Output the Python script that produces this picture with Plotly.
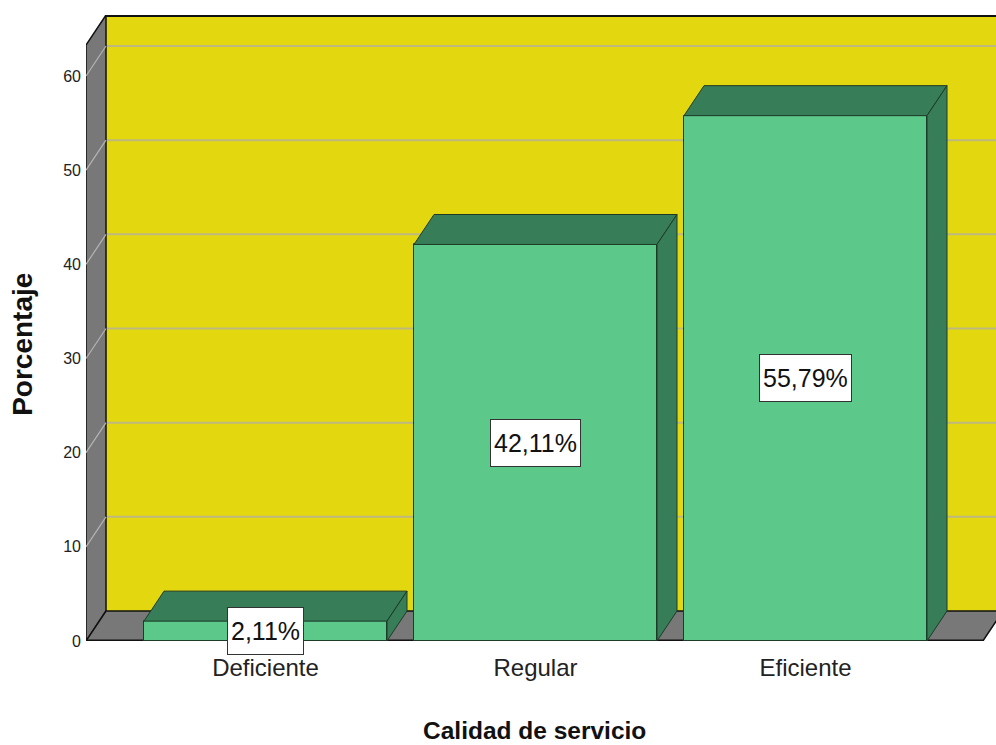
import plotly.graph_objects as go

categories = ["Deficiente", "Regular", "Eficiente"]
percentages = [2.11, 42.11, 55.79]
value_labels = ["2,11%", "42,11%", "55,79%"]
y_ticks = [0, 10, 20, 30, 40, 50, 60]

# geometry of the pseudo-3D frame (in axis units)
X_LEFT, X_RIGHT = -0.6648, 2.7056
Y_MAX = 66.48
DX, DY = 0.0741, 3.185
HALF_W = 0.45
FLOOR_RIGHT = 2.657

YELLOW = "#E3D80F"
GRAY = "#787878"
FRONT = "#5CC98B"
DARK = "#377D57"
EDGE = "#1E3A28"
FONT = "Liberation Sans, Arial, sans-serif"


def path(points):
    return "M " + " L ".join(f"{x},{y}" for x, y in points) + " Z"


shapes = []
# back wall
shapes.append(dict(type="path", xref="x", yref="y", layer="below",
                   path=path([(X_LEFT + DX, DY), (FLOOR_RIGHT + DX, DY),
                              (FLOOR_RIGHT + DX, Y_MAX), (X_LEFT + DX, Y_MAX)]),
                   fillcolor=YELLOW, line=dict(width=0)))
# gridlines on back wall and left wall
for t in y_ticks[1:]:
    shapes.append(dict(type="line", xref="x", yref="y", layer="below",
                       x0=X_LEFT + DX, x1=FLOOR_RIGHT + DX, y0=t + DY, y1=t + DY,
                       line=dict(color="#BDB780", width=2)))
# left wall
shapes.append(dict(type="path", xref="x", yref="y", layer="below",
                   path=path([(X_LEFT, 0), (X_LEFT + DX, DY), (X_LEFT + DX, Y_MAX),
                              (X_LEFT, Y_MAX - DY)]),
                   fillcolor=GRAY, line=dict(color="#111111", width=1.5)))
for t in y_ticks[1:]:
    shapes.append(dict(type="line", xref="x", yref="y", layer="below",
                       x0=X_LEFT, x1=X_LEFT + DX, y0=t, y1=t + DY,
                       line=dict(color="#B4B4B4", width=1.2)))
# floor
shapes.append(dict(type="path", xref="x", yref="y", layer="below",
                   path=path([(X_LEFT, 0), (FLOOR_RIGHT, 0), (FLOOR_RIGHT + DX, DY),
                              (X_LEFT + DX, DY)]),
                   fillcolor=GRAY, line=dict(color="#111111", width=1.5)))
# back wall top edge and floor front edge
shapes.append(dict(type="line", xref="x", yref="y", layer="below",
                   x0=X_LEFT + DX, x1=FLOOR_RIGHT + DX, y0=Y_MAX - 0.1, y1=Y_MAX - 0.1,
                   line=dict(color="#111111", width=2)))
shapes.append(dict(type="line", xref="x", yref="y", layer="below",
                   x0=X_LEFT, x1=FLOOR_RIGHT, y0=0, y1=0,
                   line=dict(color="#111111", width=3)))

fig = go.Figure()

xs = list(range(len(categories)))
# 3D faces of bars
for i, v in zip(xs, percentages):
    xl, xr = i - HALF_W, i + HALF_W
    top = [(xl, v), (xr, v), (xr + DX, v + DY), (xl + DX, v + DY), (xl, v)]
    side = [(xr, 0), (xr + DX, DY), (xr + DX, v + DY), (xr, v), (xr, 0)]
    for poly in (top, side):
        fig.add_trace(go.Scatter(x=[p[0] for p in poly], y=[p[1] for p in poly],
                                 mode="lines", fill="toself", fillcolor=DARK,
                                 line=dict(color=EDGE, width=1),
                                 hoverinfo="skip", showlegend=False))

fig.add_trace(go.Bar(x=xs, y=percentages, width=2 * HALF_W,
                     marker=dict(color=FRONT, line=dict(color=EDGE, width=1)),
                     showlegend=False, hoverinfo="skip"))

annotations = []
for i, v, lab in zip(xs, percentages, value_labels):
    annotations.append(dict(x=i, y=v / 2, xref="x", yref="y", text=lab,
                            showarrow=False, font=dict(family=FONT, size=25, color="#111111"),
                            bgcolor="white", bordercolor="#333333", borderwidth=1,
                            borderpad=3, height=40, xanchor="center", yanchor="middle"))
annotations.append(dict(x=(534 - 86) / 910, y=-0.143, xref="paper", yref="paper",
                        text="<b>Calidad de servicio</b>", showarrow=False,
                        font=dict(family=FONT, size=24.5, color="#111111"),
                        xanchor="center", yanchor="middle"))
annotations.append(dict(x=-0.0705, y=(641 - 344) / 626, xref="paper", yref="paper",
                        text="<b>Porcentaje</b>", showarrow=False, textangle=-90,
                        font=dict(family=FONT, size=28, color="#111111"),
                        xanchor="center", yanchor="middle"))

fig.update_layout(
    width=996, height=745,
    margin=dict(l=86, r=0, t=15, b=104),
    paper_bgcolor="white", plot_bgcolor="white",
    shapes=shapes, annotations=annotations,
    bargap=0,
    xaxis=dict(range=[X_LEFT, X_RIGHT], tickvals=xs, ticktext=categories,
               showgrid=False, zeroline=False, showline=False, ticks="",
               tickfont=dict(family=FONT, size=24, color="#222222"),
               ticklabelstandoff=10, fixedrange=True),
    yaxis=dict(range=[0, Y_MAX], tickvals=y_ticks, showgrid=False, zeroline=False,
               showline=False, ticks="",
               tickfont=dict(family=FONT, size=16, color="#222222"),
               ticklabelstandoff=4, fixedrange=True),
)

fig.write_html("out.html")
